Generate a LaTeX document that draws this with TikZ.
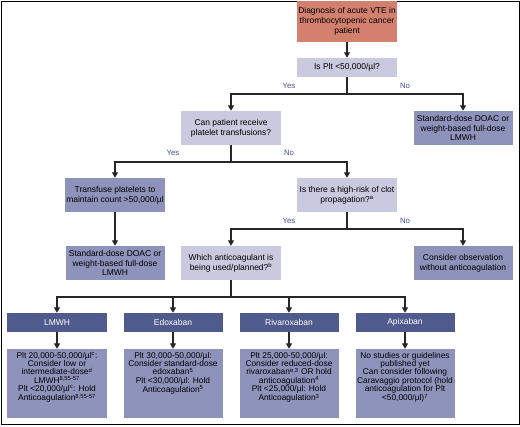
\documentclass[tikz,border=0pt]{standalone}
\usepackage{fontspec}
\setmainfont{Liberation Sans}
\usetikzlibrary{arrows.meta}
\definecolor{salmon}{RGB}{212,128,110}
\definecolor{lightq}{RGB}{201,202,223}
\definecolor{midq}{RGB}{141,147,186}
\definecolor{darkq}{RGB}{79,91,140}
\definecolor{answerblue}{RGB}{60,82,145}
\newcommand{\plan}[1]{\parbox[c][62bp][t]{97bp}{\centering #1}}

\begin{document}
\begin{tikzpicture}[x=1bp,y=-1bp,
  box/.style={inner sep=1bp,align=center,minimum width=100bp,font=\fontsize{8.5}{9.8}\selectfont},
  query/.style={box,fill=lightq,minimum height=34bp},
  result/.style={box,fill=midq,minimum width=99bp,minimum height=34bp},
  drug/.style={box,fill=darkq,text=white,minimum width=99bp,minimum height=19bp},
  detail/.style={box,fill=midq,minimum width=99bp,minimum height=69bp,font=\fontsize{8.4}{8.2}\selectfont},
  link/.style={line width=1.3bp,draw=black!85},
  arr/.style={link,-{Triangle[length=5.5bp,width=6bp]}},
  answer/.style={text=answerblue,font=\fontsize{7.8}{9}\selectfont}]
  \useasboundingbox (0,0) rectangle (520,426);
  \draw[line width=1bp] (1,1) rectangle (519,424.5);

  % questions and outcomes
  \node[box,fill=salmon,minimum height=41bp] (diag) at (347,21.5) {Diagnosis of acute VTE in\\thrombocytopenic cancer\\patient};
  \node[query,minimum height=19bp] (plt) at (347,67.5) {Is Plt <50,000/µl?};
  \node[query] (can) at (231,128) {Can patient receive\\platelet transfusions?};
  \node[result] (full1) at (463,128) {Standard-dose DOAC or\\weight-based full-dose\\LMWH};
  \node[result] (transf) at (115,195) {Transfuse platelets to\\maintain count >50,000/µl};
  \node[query] (risk) at (347,195) {Is there a high-risk of clot\\propagation?\textsuperscript{a}};
  \node[result] (full2) at (115,263) {Standard-dose DOAC or\\weight-based full-dose\\LMWH};
  \node[query] (which) at (231,263) {Which anticoagulant is\\being used/planned?\textsuperscript{b}};
  \node[result] (observe) at (463,263) {Consider observation\\without anticoagulation};

  % anticoagulants
  \node[drug] (lmwh) at (57,322.5) {LMWH};
  \node[drug] (edox) at (173,322.5) {Edoxaban};
  \node[drug] (riva) at (289,322.5) {Rivaroxaban};
  \node[drug] (apix) at (405,322.5) {Apixaban};
  \node[detail] (lmwhplan) at (57,383.5) {\plan{Plt 20,000-50,000/µl\textsuperscript{c}:\\Consider low or\\intermediate-dose\textsuperscript{d}\\LMWH\textsuperscript{8,55-57}\\Plt <20,000/µl\textsuperscript{c}: Hold\\Anticoagulation\textsuperscript{8,55-57}}};
  \node[detail] (edoxplan) at (173,383.5) {\plan{Plt 30,000-50,000/µl:\\Consider standard-dose\\edoxaban\textsuperscript{5}\\Plt <30,000/µl: Hold\\Anticoagulation\textsuperscript{5}}};
  \node[detail] (rivaplan) at (289,383.5) {\plan{Plt 25,000-50,000/µl:\\Consider reduced-dose\\rivaroxaban\textsuperscript{e,3} OR hold\\anticoagulation\textsuperscript{4}\\Plt <25,000/µl: Hold\\Anticoagulation\textsuperscript{3}}};
  \node[detail] (apixplan) at (405,383.5) {\plan{No studies or guidelines\\published yet\\Can consider following\\Caravaggio protocol (hold\\anticoagulation for Plt\\<50,000/µl)\textsuperscript{7}}};

  % branch points
  \coordinate (s1) at (347,94);
  \coordinate (s2) at (231,162);
  \coordinate (s3) at (347,229);
  \coordinate (s4) at (231,297);

  \draw[arr] (diag) -- (plt);
  \draw[link] (plt.south) -- (s1);
  \draw[arr] (s1) -| (can.north);
  \draw[arr] (s1) -| (full1.north);
  \draw[link] (can.south) -- (s2);
  \draw[arr] (s2) -| (transf.north);
  \draw[arr] (s2) -| (risk.north);
  \draw[arr] (transf) -- (full2);
  \draw[link] (risk.south) -- (s3);
  \draw[arr] (s3) -| (which.north);
  \draw[arr] (s3) -| (observe.north);
  \draw[link] (which.south) -- (s4);
  \draw[arr] (s4) -| (lmwh.north);
  \draw[arr] (s4) -| (edox.north);
  \draw[arr] (s4) -| (riva.north);
  \draw[arr] (s4) -| (apix.north);
  \draw[arr] (lmwh) -- (lmwhplan);
  \draw[arr] (edox) -- (edoxplan);
  \draw[arr] (riva) -- (rivaplan);
  \draw[arr] (apix) -- (apixplan);

  \node[answer] (yes1) at (289,86) {Yes};
  \node[answer] (no1) at (405,86) {No};
  \node[answer] (yes2) at (173,153) {Yes};
  \node[answer] (no2) at (289,153) {No};
  \node[answer] (yes3) at (289,221) {Yes};
  \node[answer] (no3) at (405,221) {No};
\end{tikzpicture}
\end{document}
